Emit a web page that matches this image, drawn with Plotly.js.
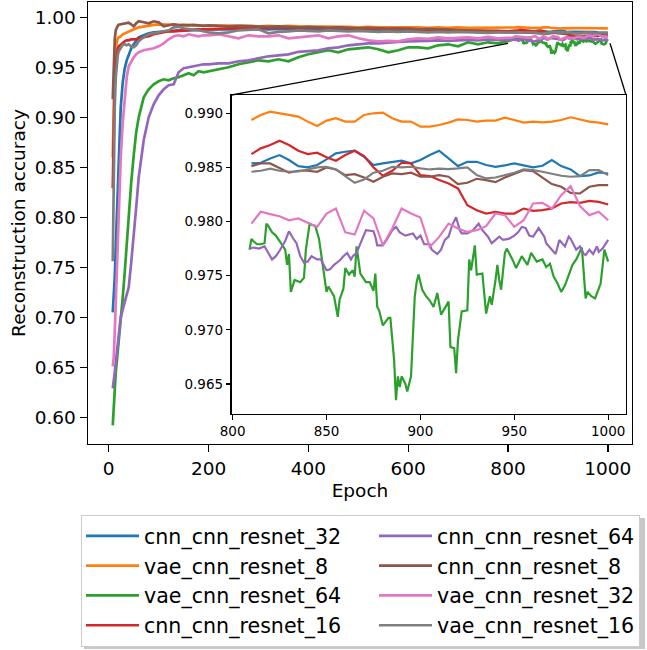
<!DOCTYPE html>
<html>
<head>
<meta charset="utf-8">
<script src="https://cdn.plot.ly/plotly-3.0.1.min.js"></script>
<style>html,body{margin:0;padding:0;background:#fff;}#chart{width:647px;height:650px;}</style>
</head>
<body>
<div id="chart"></div>
<script>
// ---------- data ----------
const seriesNames = ['cnn_cnn_resnet_32','vae_cnn_resnet_8','vae_cnn_resnet_64','cnn_cnn_resnet_16',
                     'cnn_cnn_resnet_64','cnn_cnn_resnet_8','vae_cnn_resnet_32','vae_cnn_resnet_16'];
const seriesColors = ['#1f77b4','#ff7f0e','#2ca02c','#d62728','#9467bd','#8c564b','#e377c2','#7f7f7f'];

const mainEpochs = [8,10,12,14,16,18,20,24,28,32,36,40,45,50,55,60,70,80,90,100,110,120,130,140,150,160,170,180,190,
  200,220,240,260,280,300,320,340,360,380,400,420,440,460,480,500,520,540,560,580,600,620,640,660,680,700,720,740,760,780,800];
const insetEpochs = [810,815,820,825,830,835,840,845,850,855,860,865,870,875,880,885,890,895,900,905,910,915,920,925,930,935,940,945,950,955,960,965,970,975,980,985,990,995,1000];

const cnn32Main = [0.705,0.72,0.74,0.77,0.80,0.84,0.87,0.91,0.935,0.949,0.957,0.963,0.969,0.973,0.977,0.980,0.982,0.984,0.985,0.9855,0.986,0.986,0.9865,0.987,0.987,0.987,0.9875,0.9875,0.988,
  0.988,0.9875,0.988,0.9885,0.988,0.9885,0.988,0.9885,0.988,0.9885,0.988,0.9875,0.988,0.9875,0.987,0.9875,0.987,0.9875,0.987,0.9865,0.987,0.9865,0.986,0.9865,0.986,0.9865,0.986,0.9855,0.986,0.9855,0.9855];
const cnn32Inset = [0.98537,0.98543,0.98583,0.98614,0.98568,0.98512,0.98500,0.98522,0.98574,0.98630,0.98645,0.98654,0.98599,0.98522,0.98537,0.98549,0.98562,0.98537,0.98568,0.98614,0.98654,0.98583,0.98512,0.98552,0.98552,0.98522,0.98506,0.98519,0.98537,0.98519,0.98500,0.98515,0.98568,0.98512,0.98481,0.98420,0.98426,0.98454,0.98444];

const vae8Main = [0.86,0.93,0.958,0.970,0.977,0.979,0.980,0.981,0.983,0.984,0.985,0.986,0.987,0.988,0.989,0.990,0.991,0.992,0.9925,0.993,0.993,0.993,0.9925,0.9925,0.992,0.9925,0.992,0.992,0.992,
  0.992,0.9915,0.992,0.9915,0.9915,0.991,0.9915,0.991,0.9915,0.991,0.991,0.9905,0.991,0.9905,0.9905,0.990,0.9905,0.990,0.990,0.9905,0.990,0.990,0.9895,0.990,0.9895,0.990,0.9895,0.9895,0.990,0.9895,0.9895];
const vae8Inset = [0.98938,0.98985,0.99015,0.99000,0.98991,0.98969,0.98923,0.98883,0.98932,0.98954,0.98923,0.98923,0.98985,0.99000,0.99006,0.98954,0.98923,0.98923,0.98877,0.98877,0.98892,0.98914,0.98944,0.98938,0.98923,0.98932,0.98932,0.98960,0.98938,0.98914,0.98923,0.98917,0.98923,0.98938,0.98963,0.98944,0.98923,0.98914,0.98898];

const vae64Main = [0.592,0.61,0.635,0.645,0.655,0.665,0.675,0.695,0.72,0.745,0.775,0.80,0.835,0.862,0.885,0.90,0.92,0.928,0.933,0.936,0.938,0.937,0.939,0.940,0.942,0.944,0.942,0.946,0.945,
  0.946,0.948,0.950,0.953,0.955,0.957,0.956,0.958,0.956,0.960,0.963,0.965,0.967,0.965,0.968,0.969,0.970,0.968,0.965,0.967,0.970,0.970,0.969,0.972,0.973,0.971,0.975,0.973,0.975,0.974,0.976];
const vae64InsetEpochs = [809,810,811,813,815,817,818,819,821,823,825,827,828,829,830,831,833,836,838,839,841,842,844,846,847,848,850,851,854,856,857,859,860,862,864,865,866,868,871,873,875,876,877,878,880,883,884,886,887,888,889,890,892,893,895,897,898,899,901,903,905,907,909,911,912,914,915,916,918,919,920,922,925,926,927,929,930,933,935,937,938,940,941,942,943,945,946,949,951,954,957,959,962,965,967,969,971,973,975,977,980,981,983,986,988,989,991,993,995,996,998,1000];
const vae64Inset = [0.9774,0.9784,0.9782,0.9779,0.9779,0.9780,0.9798,0.9796,0.9790,0.9787,0.9782,0.9777,0.9774,0.9760,0.9770,0.9735,0.9746,0.9744,0.9748,0.9774,0.9798,0.9797,0.9796,0.9784,0.9772,0.9762,0.9735,0.9740,0.9731,0.9712,0.9728,0.9738,0.9757,0.9751,0.9755,0.9749,0.9777,0.9752,0.9744,0.9744,0.9736,0.9752,0.9721,0.9718,0.9704,0.9711,0.9711,0.9672,0.9635,0.9657,0.9647,0.9657,0.9650,0.9643,0.9657,0.9731,0.9744,0.9751,0.9737,0.9731,0.9727,0.9721,0.9734,0.9714,0.9717,0.9723,0.9726,0.9684,0.9683,0.9660,0.9690,0.9717,0.9718,0.9765,0.9755,0.9778,0.9751,0.9752,0.9715,0.9731,0.9723,0.9746,0.9760,0.9746,0.9737,0.9771,0.9775,0.9765,0.9757,0.9768,0.9760,0.9771,0.9763,0.9765,0.9758,0.9761,0.9749,0.9743,0.9735,0.9741,0.9754,0.9760,0.9765,0.9776,0.9729,0.9735,0.9731,0.9729,0.9738,0.9743,0.9774,0.9763];

const cnn16Main = [0.829,0.90,0.94,0.955,0.963,0.968,0.971,0.973,0.975,0.976,0.977,0.977,0.978,0.978,0.978,0.979,0.980,0.981,0.983,0.984,0.985,0.986,0.986,0.9865,0.987,0.987,0.9875,0.988,0.988,
  0.988,0.9885,0.989,0.989,0.9895,0.990,0.9895,0.990,0.990,0.9895,0.990,0.9895,0.989,0.9895,0.989,0.989,0.9885,0.989,0.9885,0.988,0.9885,0.988,0.988,0.9875,0.9875,0.987,0.987,0.9865,0.987,0.9865,0.986];
const cnn16Inset = [0.98623,0.98676,0.98707,0.98747,0.98707,0.98654,0.98623,0.98636,0.98593,0.98562,0.98614,0.98654,0.98605,0.98500,0.98423,0.98469,0.98543,0.98537,0.98429,0.98420,0.98383,0.98352,0.98306,0.98151,0.98105,0.98074,0.98090,0.98074,0.98074,0.98120,0.98099,0.98105,0.98120,0.98167,0.98179,0.98173,0.98191,0.98182,0.98157];

const cnn64Main = [0.629,0.635,0.645,0.655,0.665,0.675,0.687,0.70,0.708,0.715,0.722,0.73,0.755,0.78,0.81,0.84,0.877,0.90,0.913,0.922,0.928,0.932,0.933,0.945,0.949,0.950,0.951,0.952,0.953,
  0.953,0.954,0.954,0.956,0.957,0.959,0.961,0.962,0.963,0.9655,0.966,0.967,0.969,0.970,0.972,0.973,0.974,0.974,0.975,0.9755,0.976,0.976,0.9765,0.977,0.9765,0.977,0.9775,0.977,0.978,0.9775,0.978];
const cnn64InsetEpochs = [809,811,814,817,818,821,823,825,828,830,832,834,836,838,840,842,845,847,850,852,854,857,859,861,863,864,866,868,871,875,876,877,880,882,885,887,889,892,896,898,900,902,905,906,909,911,913,915,917,919,921,922,925,928,931,933,936,938,942,944,947,950,952,954,956,958,960,963,966,967,970,972,974,977,979,980,983,985,987,988,990,992,994,995,997,1000];
const cnn64Inset = [0.9775,0.9776,0.9775,0.9777,0.9774,0.9765,0.9768,0.9773,0.9782,0.9791,0.9785,0.9780,0.9768,0.9762,0.9763,0.9768,0.9765,0.9765,0.9755,0.9756,0.9760,0.9764,0.9768,0.9771,0.9765,0.9768,0.9771,0.9780,0.9792,0.9791,0.9786,0.9778,0.9778,0.9783,0.9792,0.9795,0.9790,0.9787,0.9789,0.9784,0.9787,0.9779,0.9779,0.9774,0.9770,0.9774,0.9783,0.9786,0.9797,0.9804,0.9792,0.9789,0.9789,0.9792,0.9798,0.9792,0.9786,0.9780,0.9786,0.9783,0.9784,0.9787,0.9790,0.9795,0.9794,0.9787,0.9786,0.9794,0.9786,0.9780,0.9774,0.9770,0.9783,0.9777,0.9786,0.9784,0.9774,0.9777,0.9770,0.9769,0.9774,0.9770,0.9777,0.9772,0.9775,0.9783];

const cnn8Main = [0.918,0.955,0.978,0.987,0.990,0.9915,0.9925,0.993,0.9935,0.994,0.994,0.9945,0.993,0.991,0.994,0.996,0.995,0.994,0.996,0.995,0.991,0.992,0.993,0.992,0.9925,0.992,0.9925,0.992,0.9915,
  0.992,0.9915,0.991,0.9915,0.991,0.991,0.9905,0.991,0.9905,0.990,0.9905,0.990,0.9895,0.990,0.9895,0.989,0.9895,0.989,0.9885,0.989,0.9885,0.988,0.9885,0.988,0.9875,0.987,0.987,0.9865,0.986,0.9855,0.985];
const cnn8Inset = [0.98512,0.98537,0.98537,0.98491,0.98451,0.98469,0.98469,0.98460,0.98500,0.98481,0.98429,0.98438,0.98407,0.98367,0.98414,0.98444,0.98438,0.98451,0.98414,0.98414,0.98429,0.98414,0.98346,0.98358,0.98395,0.98383,0.98364,0.98407,0.98444,0.98475,0.98466,0.98407,0.98346,0.98321,0.98265,0.98259,0.98321,0.98336,0.98336];

const vae32Main = [0.651,0.66,0.685,0.715,0.75,0.78,0.81,0.86,0.895,0.922,0.94,0.951,0.956,0.960,0.963,0.965,0.967,0.968,0.969,0.971,0.974,0.978,0.981,0.982,0.981,0.983,0.982,0.981,0.982,
  0.982,0.983,0.981,0.979,0.982,0.981,0.981,0.982,0.979,0.980,0.981,0.982,0.979,0.981,0.982,0.979,0.977,0.976,0.9765,0.976,0.978,0.979,0.9785,0.980,0.979,0.9795,0.980,0.979,0.9805,0.979,0.980];
const vae32Inset = [0.97981,0.98090,0.98068,0.98049,0.98012,0.98028,0.97988,0.97951,0.98074,0.98120,0.97900,0.97880,0.98100,0.98028,0.97781,0.97935,0.98120,0.98074,0.98037,0.97765,0.97858,0.97981,0.97935,0.97904,0.97920,0.97957,0.98074,0.98059,0.97951,0.98012,0.98167,0.98173,0.98120,0.98244,0.98327,0.98142,0.98059,0.98090,0.98012];

const vae16Main = [0.756,0.85,0.91,0.94,0.955,0.962,0.966,0.970,0.9725,0.973,0.972,0.973,0.971,0.970,0.972,0.976,0.980,0.983,0.984,0.985,0.9855,0.987,0.990,0.9905,0.989,0.988,0.9875,0.987,0.986,
  0.985,0.984,0.985,0.987,0.9875,0.988,0.984,0.9855,0.986,0.987,0.9865,0.986,0.987,0.9865,0.986,0.9865,0.986,0.9855,0.986,0.9855,0.986,0.9855,0.985,0.9855,0.985,0.9855,0.985,0.985,0.9845,0.985,0.9845];
const vae16Inset = [0.98460,0.98469,0.98488,0.98469,0.98460,0.98463,0.98481,0.98500,0.98506,0.98481,0.98420,0.98358,0.98389,0.98451,0.98469,0.98506,0.98500,0.98506,0.98491,0.98481,0.98488,0.98485,0.98491,0.98500,0.98429,0.98398,0.98407,0.98426,0.98451,0.98481,0.98475,0.98460,0.98438,0.98423,0.98414,0.98420,0.98475,0.98475,0.98429];

const mainXTicks = [0,200,400,600,800,1000];
const mainYTicks = [0.60,0.65,0.70,0.75,0.80,0.85,0.90,0.95,1.00];
const insetXTicks = [800,850,900,950,1000];
const insetYTicks = [0.965,0.970,0.975,0.980,0.985,0.990];

// ---------- build ----------
const seriesMain = [cnn32Main, vae8Main, vae64Main, cnn16Main, cnn64Main, cnn8Main, vae32Main, vae16Main];
const seriesInset = [cnn32Inset, vae8Inset, vae64Inset, cnn16Inset, cnn64Inset, cnn8Inset, vae32Inset, vae16Inset];
const seriesInsetX = [insetEpochs, insetEpochs, vae64InsetEpochs, insetEpochs, cnn64InsetEpochs, insetEpochs, insetEpochs, insetEpochs];

const traces = [];
for (let i = 0; i < 8; i++) {
  const col = i < 4 ? 'col1' : 'col2';
  traces.push({
    type: 'scatter', mode: 'lines', name: seriesNames[i],
    x: mainEpochs.concat(seriesInsetX[i]), y: seriesMain[i].concat(seriesInset[i]),
    line: {color: seriesColors[i], width: 2.7}, xaxis: 'x', yaxis: 'y',
    legendgroup: col, legendwidth: i < 4 ? 225 : 197, showlegend: true
  });
}
for (let i = 0; i < 8; i++) {
  traces.push({
    type: 'scatter', mode: 'lines', name: seriesNames[i],
    x: seriesInsetX[i], y: seriesInset[i],
    line: {color: seriesColors[i], width: 2.2}, xaxis: 'x2', yaxis: 'y2',
    showlegend: false
  });
}

const W = 647, H = 650, L = 88, R = 15, T = 2, B = 206;
const pw = W - L - R, ph = H - T - B;
const px2x = p => (p - L) / pw;
const py2y = p => (H - B - p) / ph;

const fontFam = 'DejaVu Sans, sans-serif';
const layout = {
  width: W, height: H,
  margin: {l: L, r: R, t: T, b: B, pad: 0, autoexpand: false},
  paper_bgcolor: 'white', plot_bgcolor: 'white',
  font: {family: fontFam, color: 'black', size: 18.5},
  hovermode: false,
  xaxis: {
    range: [-41.6, 1048.4], tickvals: mainXTicks, ticktext: mainXTicks.map(String),
    ticks: 'outside', ticklen: 7, tickwidth: 1.4, tickcolor: 'black',
    showline: true, linecolor: 'black', linewidth: 1.4, mirror: true,
    showgrid: false, zeroline: false, tickfont: {size: 18.5, family: fontFam},
    title: {text: 'Epoch', font: {size: 18.5, family: fontFam}, standoff: 6}
  },
  yaxis: {
    range: [0.5733, 1.0153], tickvals: mainYTicks, ticktext: mainYTicks.map(v => v.toFixed(2)),
    ticks: 'outside', ticklen: 7, tickwidth: 1.4, tickcolor: 'black',
    showline: true, linecolor: 'black', linewidth: 1.4, mirror: true,
    showgrid: false, zeroline: false, tickfont: {size: 18.5, family: fontFam},
    title: {text: 'Reconstruction accuracy', font: {size: 18.5, family: fontFam}, standoff: 4}
  },
  xaxis2: {
    domain: [px2x(231.7), px2x(626)], anchor: 'y2',
    range: [799.5, 1009.5], tickvals: insetXTicks, ticktext: insetXTicks.map(String),
    ticks: 'outside', ticklen: 4.5, tickwidth: 1.2, tickcolor: 'black',
    showline: true, linecolor: 'black', linewidth: 1.4, mirror: true,
    showgrid: false, zeroline: false, tickfont: {size: 13.5, family: fontFam}
  },
  yaxis2: {
    domain: [py2y(414), py2y(95)], anchor: 'x2',
    range: [0.96222, 0.99169], tickvals: insetYTicks, ticktext: insetYTicks.map(v => v.toFixed(3)),
    ticks: 'outside', ticklen: 4.5, tickwidth: 1.2, tickcolor: 'black',
    showline: true, linecolor: 'black', linewidth: 1.4, mirror: true,
    showgrid: false, zeroline: false, tickfont: {size: 13.5, family: fontFam}
  },
  legend: {
    orientation: 'h', x: px2x(81), y: py2y(515), xanchor: 'left', yanchor: 'top',
    itemwidth: 53, traceorder: 'grouped', tracegroupgap: 0,
    bgcolor: 'white', bordercolor: '#cccccc', borderwidth: 1,
    font: {size: 20.6, family: fontFam, color: 'black'}
  },
  shapes: [
    {type: 'rect', xref: 'x2 domain', yref: 'y2 domain', x0: 0, x1: 1, y0: 0, y1: 1,
     fillcolor: 'white', line: {width: 0}, layer: 'below'},
    {type: 'line', xref: 'paper', yref: 'paper', x0: px2x(231.7), y0: py2y(95), x1: px2x(508), y1: py2y(43.3),
     line: {color: 'black', width: 1.3}, layer: 'above'},
    {type: 'line', xref: 'paper', yref: 'paper', x0: px2x(626), y0: py2y(95), x1: px2x(610), y1: py2y(43.3),
     line: {color: 'black', width: 1.3}, layer: 'above'},
    // legend drop shadow
    {type: 'rect', xref: 'paper', yref: 'paper', x0: px2x(84), x1: px2x(645), y0: py2y(518), y1: py2y(649),
     fillcolor: 'rgba(0,0,0,0.22)', line: {width: 0}, layer: 'above'}
  ]
};

Plotly.newPlot('chart', traces, layout, {staticPlot: true, displayModeBar: false});
</script>
</body>
</html>
